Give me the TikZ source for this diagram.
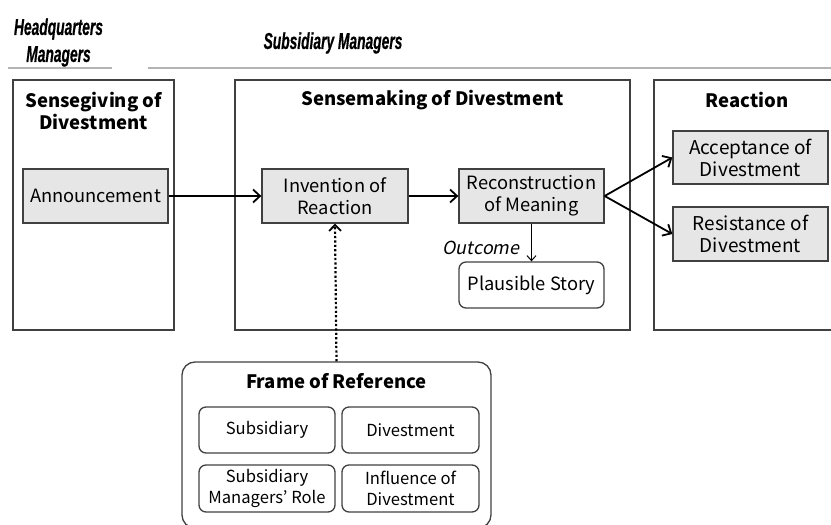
\documentclass[tikz,border=0pt]{standalone}
\usepackage{fontspec}
\setmainfont{Noto Sans CJK JP}
\newfontfamily\slfont{Noto Sans CJK JP}[FakeSlant=0.2]
\newfontfamily\hdfont{Liberation Sans}[FakeStretch=0.6, FakeBold=0.5]
\usetikzlibrary{arrows.meta}
\definecolor{edge}{HTML}{404040}
\definecolor{boxgray}{HTML}{E6E6E6}
\definecolor{sepgray}{HTML}{B4B4B4}
\tikzset{
  body/.style={font=\fontsize{18.3}{22}\selectfont, align=center},
  small/.style={font=\fontsize{16.6}{21}\selectfont, align=center},
  panel/.style={draw=edge, line width=1.3pt, inner sep=0pt},
  gbox/.style={body, draw=edge, fill=boxgray, line width=1.3pt, inner sep=0pt},
  rbox/.style={body, draw=edge, line width=1.3pt, rounded corners=7pt, inner sep=0pt},
  ptitle/.style={font=\fontsize{18.5}{22}\selectfont\bfseries, align=center},
  hdr/.style={font=\fontsize{23}{27}\selectfont\hdfont\bfseries\itshape, align=center},
  sep/.style={draw=sepgray, line width=1.6pt},
  flow/.style={draw=black, line width=1.8pt, -{Straight Barb[length=7pt,width=13pt,line width=1.8pt]}},
  thin/.style={draw=black, line width=1pt, -{Straight Barb[length=5pt,width=9pt,line width=1pt]}},
  dots/.style={draw=black, line width=2.2pt, dash pattern=on 2.2pt off 2.2pt, -{Straight Barb[length=6pt,width=12pt,line width=1.8pt,sep=0pt]}}
}
\begin{document}
\begin{tikzpicture}[x=1pt,y=-1pt]
\useasboundingbox (0,0) rectangle (831,525);
\clip (0,0) rectangle (831,525);
% headers
\node[hdr] (hq) at (58.5,42.5) {Headquarters\\Managers};
\node[hdr] (sm) at (333,43) {Subsidiary Managers};
\coordinate (s1a) at (8,68); \coordinate (s1b) at (112,68);
\coordinate (s2a) at (148,68); \coordinate (s2b) at (831,68);
\draw[sep] (s1a) -- (s1b);
\draw[sep] (s2a) -- (s2b);
% panels
\node[panel, minimum width=161pt, minimum height=250pt] (left) at (93.5,205) {};
\node[panel, minimum width=395pt, minimum height=250pt] (mid) at (432.5,205) {};
\node[panel, minimum width=200pt, minimum height=250pt] (right) at (754,205) {};
\node[ptitle] (lt) at (93.5,111) {Sensegiving of\\Divestment};
\node[ptitle] (mt) at (432.5,100) {Sensemaking of Divestment};
\node[ptitle] (rt) at (747,100) {Reaction};
% boxes
\node[gbox, minimum width=145pt, minimum height=54pt] (ann) at (95.5,196) {Announcement};
\node[gbox, minimum width=146pt, minimum height=54pt] (inv) at (335,196) {Invention of\\Reaction};
\node[gbox, minimum width=145pt, minimum height=54pt] (rec) at (531.5,196) {Reconstruction\\of Meaning};
\node[rbox, minimum width=145pt, minimum height=46pt] (pla) at (531.5,285) {Plausible Story};
\node[gbox, font=\fontsize{19}{22}\selectfont, minimum width=155pt, minimum height=53pt] (acc) at (750.5,157.5) {Acceptance of\\Divestment};
\node[gbox, font=\fontsize{19}{22}\selectfont, minimum width=155pt, minimum height=54pt] (res) at (750.5,234) {Resistance of\\Divestment};
% frame of reference
\node[panel, rounded corners=13pt, minimum width=309pt, minimum height=166pt] (frame) at (336.5,445) {};
\node[ptitle] (ft) at (336.5,381) {Frame of Reference};
\node[rbox, small, minimum width=136pt, minimum height=46pt] (f1) at (267,430) {Subsidiary};
\node[rbox, small, minimum width=137pt, minimum height=46pt] (f2) at (410.5,430) {Divestment};
\node[rbox, small, minimum width=136pt, minimum height=47pt] (f3) at (267,488.5) {Subsidiary\\Managers' Role};
\node[rbox, small, minimum width=137pt, minimum height=47pt] (f4) at (410.5,488.5) {Influence of\\Divestment};
% connectors
\draw[flow] (ann.east) -- (inv.west);
\draw[flow] (inv.east) -- (rec.west);
\draw[flow] (rec.east) -- (acc.west);
\draw[flow] (rec.east) -- (res.west);
\draw[thin] (rec.south) -- (pla.north);
\node[body, font=\fontsize{18}{22}\selectfont\slfont] (oc) at (481,248) {Outcome};
\draw[dots] (frame.north) -- (inv.south);
\end{tikzpicture}
\end{document}
